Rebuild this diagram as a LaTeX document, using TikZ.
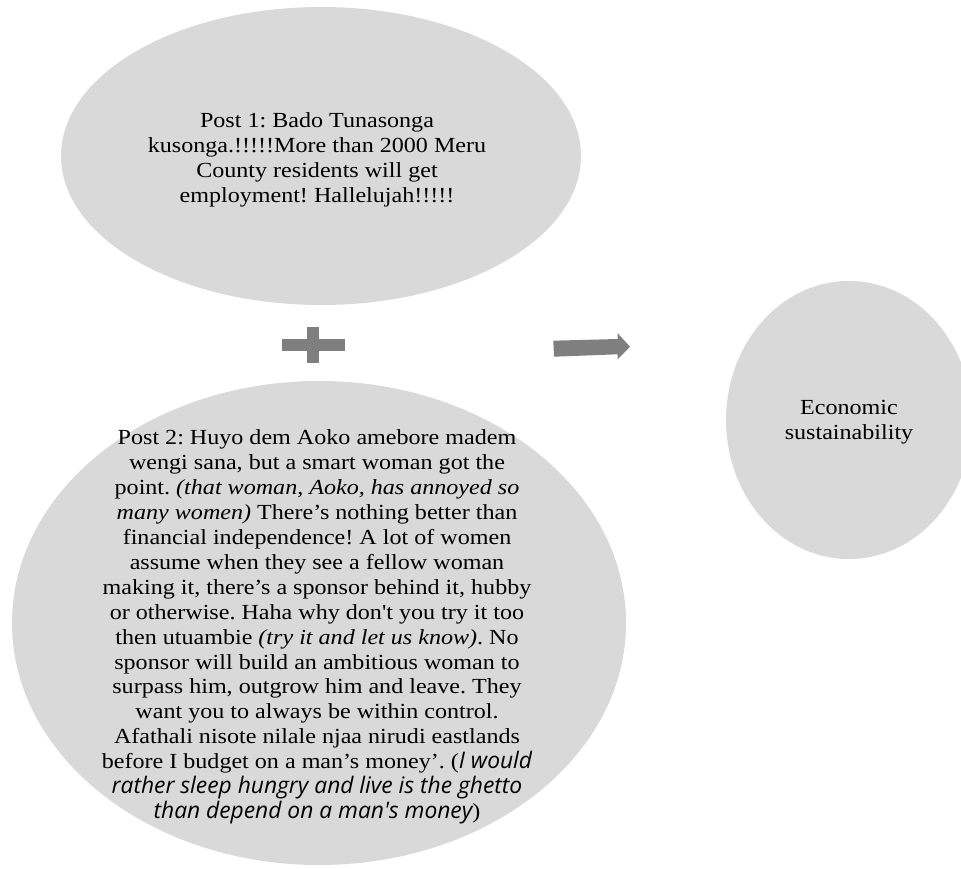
\documentclass[tikz,border=0pt]{standalone}
\usepackage{fontspec}
\setmainfont{Liberation Serif}[Ligatures=TeXOff, FakeStretch=1.12]
\newfontfamily\aptos{Open Sans}[Ligatures=TeXOff, Scale=1.06]
\usetikzlibrary{shapes.geometric}
\definecolor{bubblegray}{HTML}{D9D9D9}
\definecolor{symgray}{HTML}{7F7F7F}
\tikzset{
  bubble/.style={ellipse, fill=bubblegray, draw=none, inner sep=0pt},
  txt/.style={align=center, inner sep=0pt, text=black, font=\fontsize{21.5}{24.9}\selectfont},
  sym/.style={fill=symgray, draw=none}
}
\frenchspacing
\begin{document}
\begin{tikzpicture}[x=1pt,y=-1pt]
\useasboundingbox (0,0) rectangle (961,869);
% bubbles
\node[bubble, minimum width=520pt, minimum height=298pt] (e1) at (321,156) {};
\node[bubble, minimum width=614pt, minimum height=484pt] (e2) at (319,623) {};
\node[bubble, minimum width=246pt, minimum height=278pt] (e3) at (849,420) {};
% texts
\node[txt] (t1) at (317,160) {Post 1: Bado Tunasonga\\
kusonga.!!!!!More than 2000 Meru\\
County residents will get\\
employment! Hallelujah!!!!!};
\node[txt] (t2) at (317,627) {Post 2: Huyo dem Aoko amebore madem\\
wengi sana, but a smart woman got the\\
point. \textit{(that woman, Aoko, has annoyed so}\\
\textit{many women)} There’s nothing better than\\
financial independence! A lot of women\\
assume when they see a fellow woman\\
making it, there’s a sponsor behind it, hubby\\
or otherwise. Haha why don't you try it too\\
then utuambie \textit{(try it and let us know)}. No\\
sponsor will build an ambitious woman to\\
surpass him, outgrow him and leave. They\\
want you to always be within control.\\
Afathali nisote nilale njaa nirudi eastlands\\
before I budget on a man’s money’. ({\aptos\itshape I would}\\
{\aptos\itshape rather sleep hungry and live is the ghetto}\\
{\aptos\itshape than depend on a man's money})};
\node[txt] (t3) at (849,422) {Economic\\sustainability};
% plus sign
\fill[sym] (282,339) rectangle (345,351);
\fill[sym] (307,327) rectangle (319,363);
% block arrow
\fill[sym] (553.3,340.7) -- (617.7,339) -- (617.7,333.3) -- (630,346.7)
  -- (617.7,359.3) -- (617.7,354.3) -- (554,356.7) -- cycle;
\end{tikzpicture}
\end{document}
